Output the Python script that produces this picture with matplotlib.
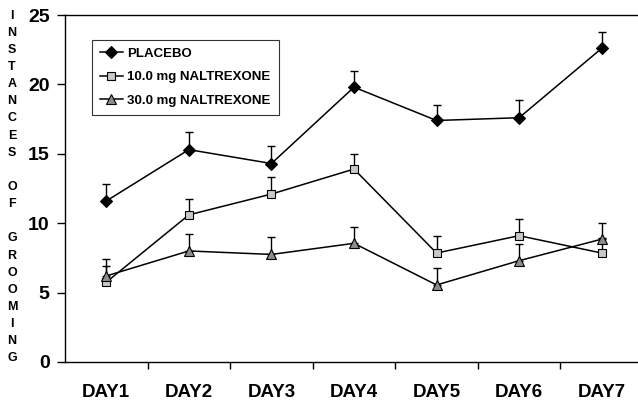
import numpy as np
import matplotlib.pyplot as plt

plt.rcParams['font.family'] = ['Liberation Sans', 'DejaVu Sans']
plt.rcParams['font.weight'] = 'bold'

days = ['DAY1', 'DAY2', 'DAY3', 'DAY4', 'DAY5', 'DAY6', 'DAY7']

placebo = [11.6, 15.3, 14.3, 19.8, 17.4, 17.6, 22.6]
placebo_err = [1.2, 1.25, 1.25, 1.2, 1.15, 1.25, 1.2]

nal_10 = [5.75, 10.6, 12.1, 13.9, 7.85, 9.1, 7.85]
nal_10_err = [1.2, 1.15, 1.2, 1.1, 1.2, 1.2, 1.1]

nal_30 = [6.2, 8.0, 7.75, 8.55, 5.55, 7.3, 8.85]
nal_30_err = [1.25, 1.25, 1.25, 1.2, 1.25, 1.2, 1.2]

fig = plt.figure(figsize=(6.38, 4.04), dpi=100)
W, H = 638, 404
ax = fig.add_axes([65 / W, (H - 362) / H, (643 - 65) / W, (362 - 15) / H])

x = np.arange(len(days)) + 0.5

def series(y, err, marker, face, size, label):
    y = np.array(y)
    ax.errorbar(x, y, yerr=[np.zeros_like(y), np.array(err)], fmt='none',
                ecolor='black', elinewidth=1.0, capsize=3, capthick=1.0, zorder=2)
    ax.plot(x, y, color='black', lw=1.1, marker=marker, markersize=size,
            markerfacecolor=face, markeredgecolor='black', markeredgewidth=0.8,
            label=label, zorder=3)

series(placebo, placebo_err, 'D', 'black', 6, 'PLACEBO')
series(nal_10, nal_10_err, 's', '#c8c8c8', 6, '10.0 mg NALTREXONE')
series(nal_30, nal_30_err, '^', '#8c8c8c', 7, '30.0 mg NALTREXONE')

ax.set_xlim(0, 7)
ax.set_ylim(0, 25)
ax.set_yticks([0, 5, 10, 15, 20, 25])
ax.set_yticklabels(['0', '5', '10', '15', '20', '25'], fontsize=14, fontweight='bold')
ax.tick_params(axis='y', direction='out', length=6, width=1, pad=5)

# category boundaries get the ticks, names sit in the middle
ax.set_xticks(np.arange(1, 7))
ax.set_xticklabels([])
ax.tick_params(axis='x', direction='out', length=5, width=1)
for xi, d in zip(x, days):
    ax.text(xi, -2.2, d, ha='center', va='center', fontsize=13.5,
            fontweight='bold', transform=ax.transData, clip_on=False)

for s in ['left', 'bottom', 'top']:
    ax.spines[s].set_linewidth(1.0)
ax.spines['right'].set_visible(False)

leg = ax.legend(loc='upper left', bbox_to_anchor=(20 / 578, 1 - 18 / 347),
                prop={'size': 9.5, 'weight': 'bold'}, frameon=True, fancybox=False,
                edgecolor='black', handlelength=1.8, labelspacing=0.85,
                borderpad=0.6, handletextpad=0.3)
leg.get_frame().set_linewidth(0.8)

ylabel = 'INSTANCES OF GROOMING'
fig.text(12 / W, 1 - 187 / H, '\n'.join(ylabel), ha='center', va='center',
         fontsize=9, fontweight='bold', linespacing=1.57)

fig.savefig('out.png', dpi=100)
